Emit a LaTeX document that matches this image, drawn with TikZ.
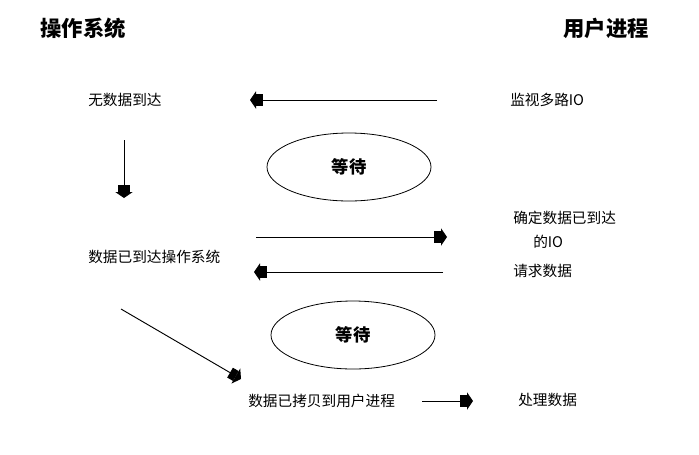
\documentclass[tikz,border=0pt]{standalone}
\usepackage{fontspec}
\setmainfont{Noto Sans CJK SC}
\usetikzlibrary{shapes.geometric,arrows.meta}

\begin{document}
\begin{tikzpicture}[x=0.75pt,y=-0.75pt,
  title/.style={font=\fontsize{16}{18}\selectfont\bfseries,inner sep=0pt},
  txt/.style={font=\fontsize{11}{13}\selectfont,inner sep=0pt,anchor=west},
  wait/.style={draw,ellipse,line width=0.6pt,minimum width=123pt,minimum height=51pt,font=\fontsize{13}{15}\selectfont\bfseries},
  arr/.style={line width=0.7pt,-{Rectangle[length=5pt,width=8.5pt]Triangle[length=4.5pt,width=13pt]}}]
\useasboundingbox (0,0) rectangle (699,454);
\node[title] (os) at (83,28) {操作系统};
\node[title] (user) at (606,28) {用户进程};
\node[txt] (nodata) at (88,100) {无数据到达};
\node[txt] (monitor) at (510,100) {监视多路IO};
\node[wait] (wait1) at (349,167) {等待};
\node[txt] (ready) at (513,218) {确定数据已到达};
\node[txt] (readyio) at (533,242) {的IO};
\node[txt] (arrived) at (88,257) {数据已到达操作系统};
\node[txt] (request) at (513,271) {请求数据};
\node[wait] (wait2) at (353,335) {等待};
\node[txt] (copied) at (248,401) {数据已拷贝到用户进程};
\node[txt] (process) at (518,400) {处理数据};
% arrow ends
\coordinate (selfrom) at (437,100);
\coordinate (selto) at (250,100);
\coordinate (downfrom) at (124,140);
\coordinate (downto) at (124,198);
\coordinate (okfrom) at (256,237);
\coordinate (okto) at (447,237);
\coordinate (reqfrom) at (443,272);
\coordinate (reqto) at (254,272);
\coordinate (cpfrom) at (121,309);
\coordinate (cpto) at (241,379);
\coordinate (prfrom) at (422,401);
\coordinate (prto) at (473,401);
\draw[arr] (selfrom) -- (selto);
\draw[arr] (downfrom) -- (downto);
\draw[arr] (okfrom) -- (okto);
\draw[arr] (reqfrom) -- (reqto);
\draw[arr] (cpfrom) -- (cpto);
\draw[arr] (prfrom) -- (prto);
\end{tikzpicture}
\end{document}
